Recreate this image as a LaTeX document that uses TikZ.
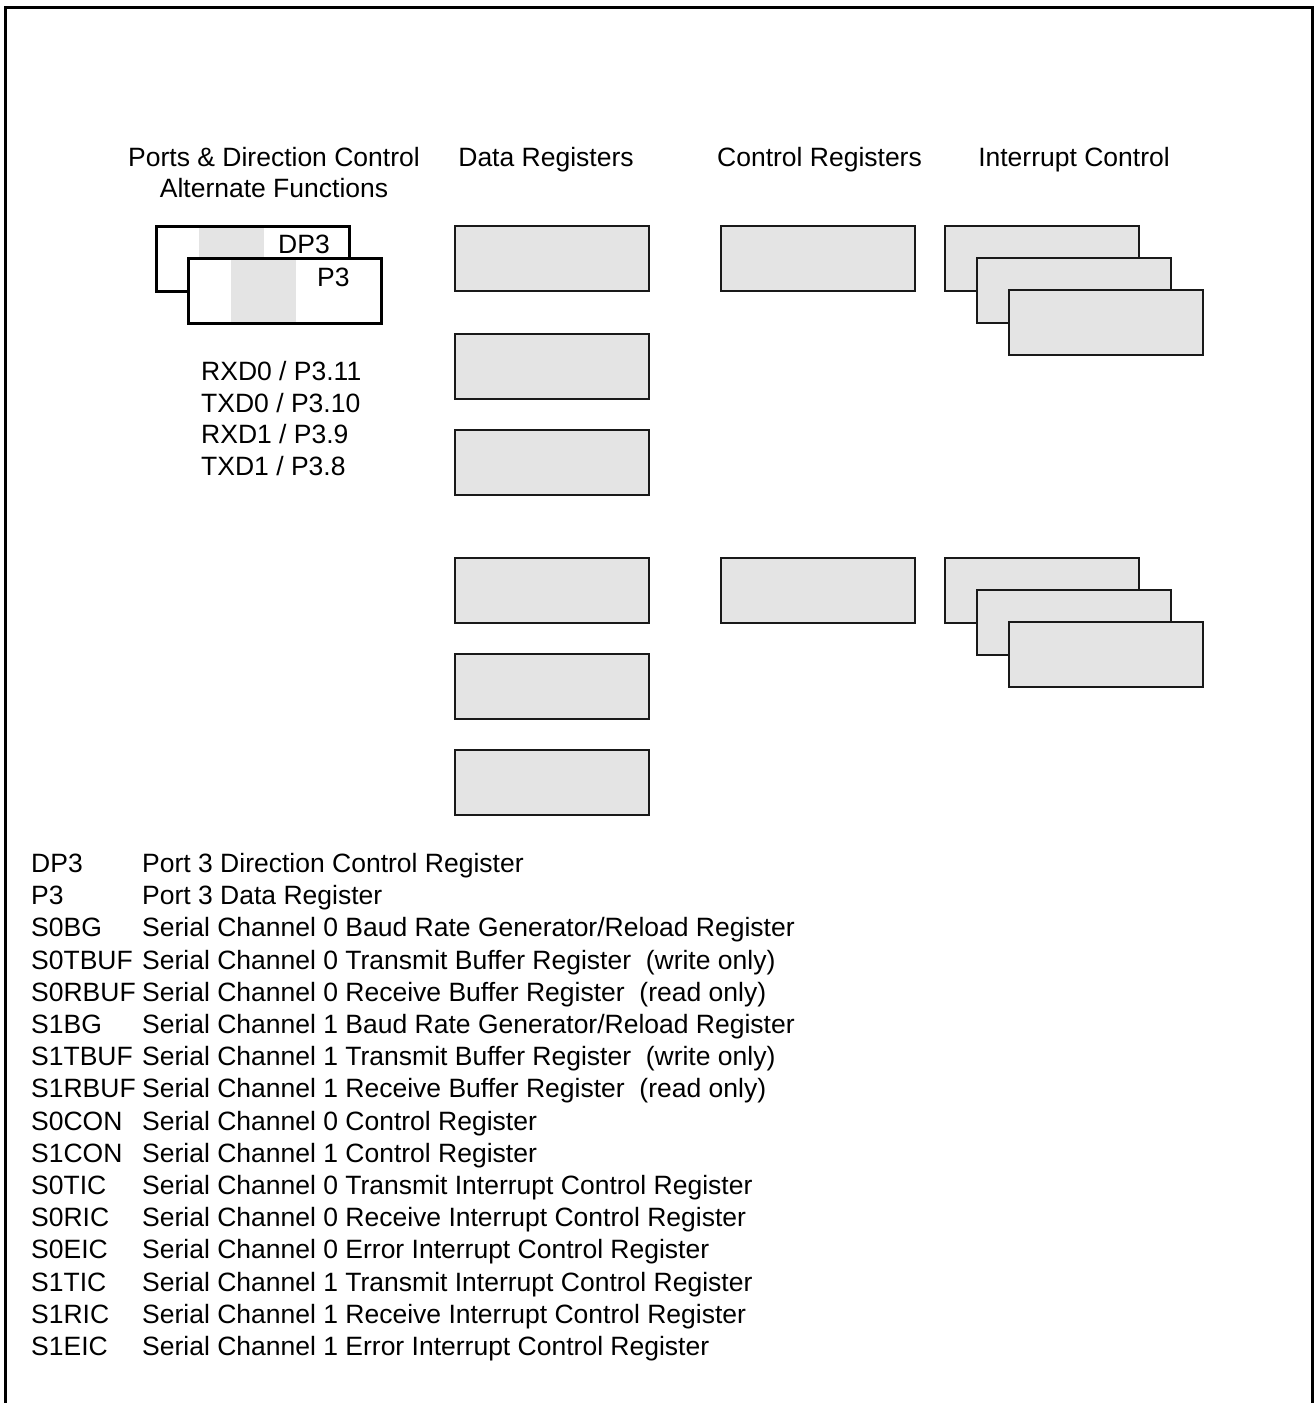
\documentclass[tikz,border=0pt]{standalone}
\usepackage{fontspec}
\setmainfont{Liberation Sans}
\definecolor{regfill}{HTML}{E4E4E4}
\begin{document}
\begin{tikzpicture}[x=1pt,y=-1pt,
  font=\fontsize{26.5}{32}\selectfont,
  regbox/.style={draw=black!90, line width=2pt, fill=regfill, minimum width=194pt, minimum height=65pt, anchor=north west, inner sep=0pt, outer sep=0pt},
  portbox/.style={draw=black, line width=3pt, fill=white, minimum width=193pt, minimum height=65pt, anchor=north west, inner sep=0pt, outer sep=0pt},
  txt/.style={anchor=base west, inner sep=0pt},
  ctxt/.style={anchor=base, inner sep=0pt}]
\useasboundingbox (0,0) rectangle (1314,1403);
% frame (open at bottom)
\coordinate (fbl) at (5.5,1403);
\coordinate (ftl) at (5.5,7.5);
\coordinate (ftr) at (1312,7.5);
\coordinate (fbr) at (1312,1403);
\draw[line width=3pt] (fbl) -- (ftl) -- (ftr) -- (fbr);

% headers
\node[ctxt] (h1) at (274,166.5) {Ports \& Direction Control};
\node[ctxt] (h1b) at (274,197.5) {Alternate Functions};
\node[ctxt] (h2) at (546,166.5) {Data Registers};
\node[ctxt] (h3) at (819.5,166.5) {Control Registers};
\node[ctxt] (h4) at (1074,166.5) {Interrupt Control};

% port boxes
\node[portbox] (dp3) at (156,226) {};
\fill[regfill] (199,227.5) rectangle (264,258);
\node[portbox] (p3) at (188,258) {};
\fill[regfill] (231,259.5) rectangle (296,321.5);
\draw[line width=3pt] (p3.north west) rectangle (p3.south east);
\node[txt] (dp3t) at (278,253) {DP3};
\node[txt] (p3t) at (317,286) {P3};

% pins
\node[txt] (pin1) at (201,380.5) {RXD0 / P3.11};
\node[txt] (pin2) at (201,412) {TXD0 / P3.10};
\node[txt] (pin3) at (201,443.5) {RXD1 / P3.9};
\node[txt] (pin4) at (201,475.5) {TXD1 / P3.8};

% data registers
\node[regbox] (d1) at (455,226) {};
\node[regbox] (d2) at (455,334) {};
\node[regbox] (d3) at (455,430) {};
\node[regbox] (d4) at (455,558) {};
\node[regbox] (d5) at (455,654) {};
\node[regbox] (d6) at (455,750) {};

% control registers
\node[regbox] (c1) at (721,226) {};
\node[regbox] (c2) at (721,558) {};

% interrupt control
\node[regbox] (i1) at (945,226) {};
\node[regbox] (i2) at (977,258) {};
\node[regbox] (i3) at (1009,290) {};
\node[regbox] (i4) at (945,558) {};
\node[regbox] (i5) at (977,590) {};
\node[regbox] (i6) at (1009,622) {};

% legend
\def\ly#1{872.5+#1*32.2}
\node[txt] (a1) at (31,{\ly{0}}) {DP3};
\node[txt] (b1) at (142,{\ly{0}}) {Port 3 Direction Control Register};
\node[txt] (a2) at (31,{\ly{1}}) {P3};
\node[txt] (b2) at (142,{\ly{1}}) {Port 3 Data Register};
\node[txt] (a3) at (31,{\ly{2}}) {S0BG};
\node[txt] (b3) at (142,{\ly{2}}) {Serial Channel 0 Baud Rate Generator/Reload Register};
\node[txt] (a4) at (31,{\ly{3}}) {S0TBUF};
\node[txt] (b4) at (142,{\ly{3}}) {Serial Channel 0 Transmit Buffer Register\ \ (write only)};
\node[txt] (a5) at (31,{\ly{4}}) {S0RBUF};
\node[txt] (b5) at (142,{\ly{4}}) {Serial Channel 0 Receive Buffer Register\ \ (read only)};
\node[txt] (a6) at (31,{\ly{5}}) {S1BG};
\node[txt] (b6) at (142,{\ly{5}}) {Serial Channel 1 Baud Rate Generator/Reload Register};
\node[txt] (a7) at (31,{\ly{6}}) {S1TBUF};
\node[txt] (b7) at (142,{\ly{6}}) {Serial Channel 1 Transmit Buffer Register\ \ (write only)};
\node[txt] (a8) at (31,{\ly{7}}) {S1RBUF};
\node[txt] (b8) at (142,{\ly{7}}) {Serial Channel 1 Receive Buffer Register\ \ (read only)};
\node[txt] (a9) at (31,{\ly{8}}) {S0CON};
\node[txt] (b9) at (142,{\ly{8}}) {Serial Channel 0 Control Register};
\node[txt] (a10) at (31,{\ly{9}}) {S1CON};
\node[txt] (b10) at (142,{\ly{9}}) {Serial Channel 1 Control Register};
\node[txt] (a11) at (31,{\ly{10}}) {S0TIC};
\node[txt] (b11) at (142,{\ly{10}}) {Serial Channel 0 Transmit Interrupt Control Register};
\node[txt] (a12) at (31,{\ly{11}}) {S0RIC};
\node[txt] (b12) at (142,{\ly{11}}) {Serial Channel 0 Receive Interrupt Control Register};
\node[txt] (a13) at (31,{\ly{12}}) {S0EIC};
\node[txt] (b13) at (142,{\ly{12}}) {Serial Channel 0 Error Interrupt Control Register};
\node[txt] (a14) at (31,{\ly{13}}) {S1TIC};
\node[txt] (b14) at (142,{\ly{13}}) {Serial Channel 1 Transmit Interrupt Control Register};
\node[txt] (a15) at (31,{\ly{14}}) {S1RIC};
\node[txt] (b15) at (142,{\ly{14}}) {Serial Channel 1 Receive Interrupt Control Register};
\node[txt] (a16) at (31,{\ly{15}}) {S1EIC};
\node[txt] (b16) at (142,{\ly{15}}) {Serial Channel 1 Error Interrupt Control Register};
\end{tikzpicture}
\end{document}
